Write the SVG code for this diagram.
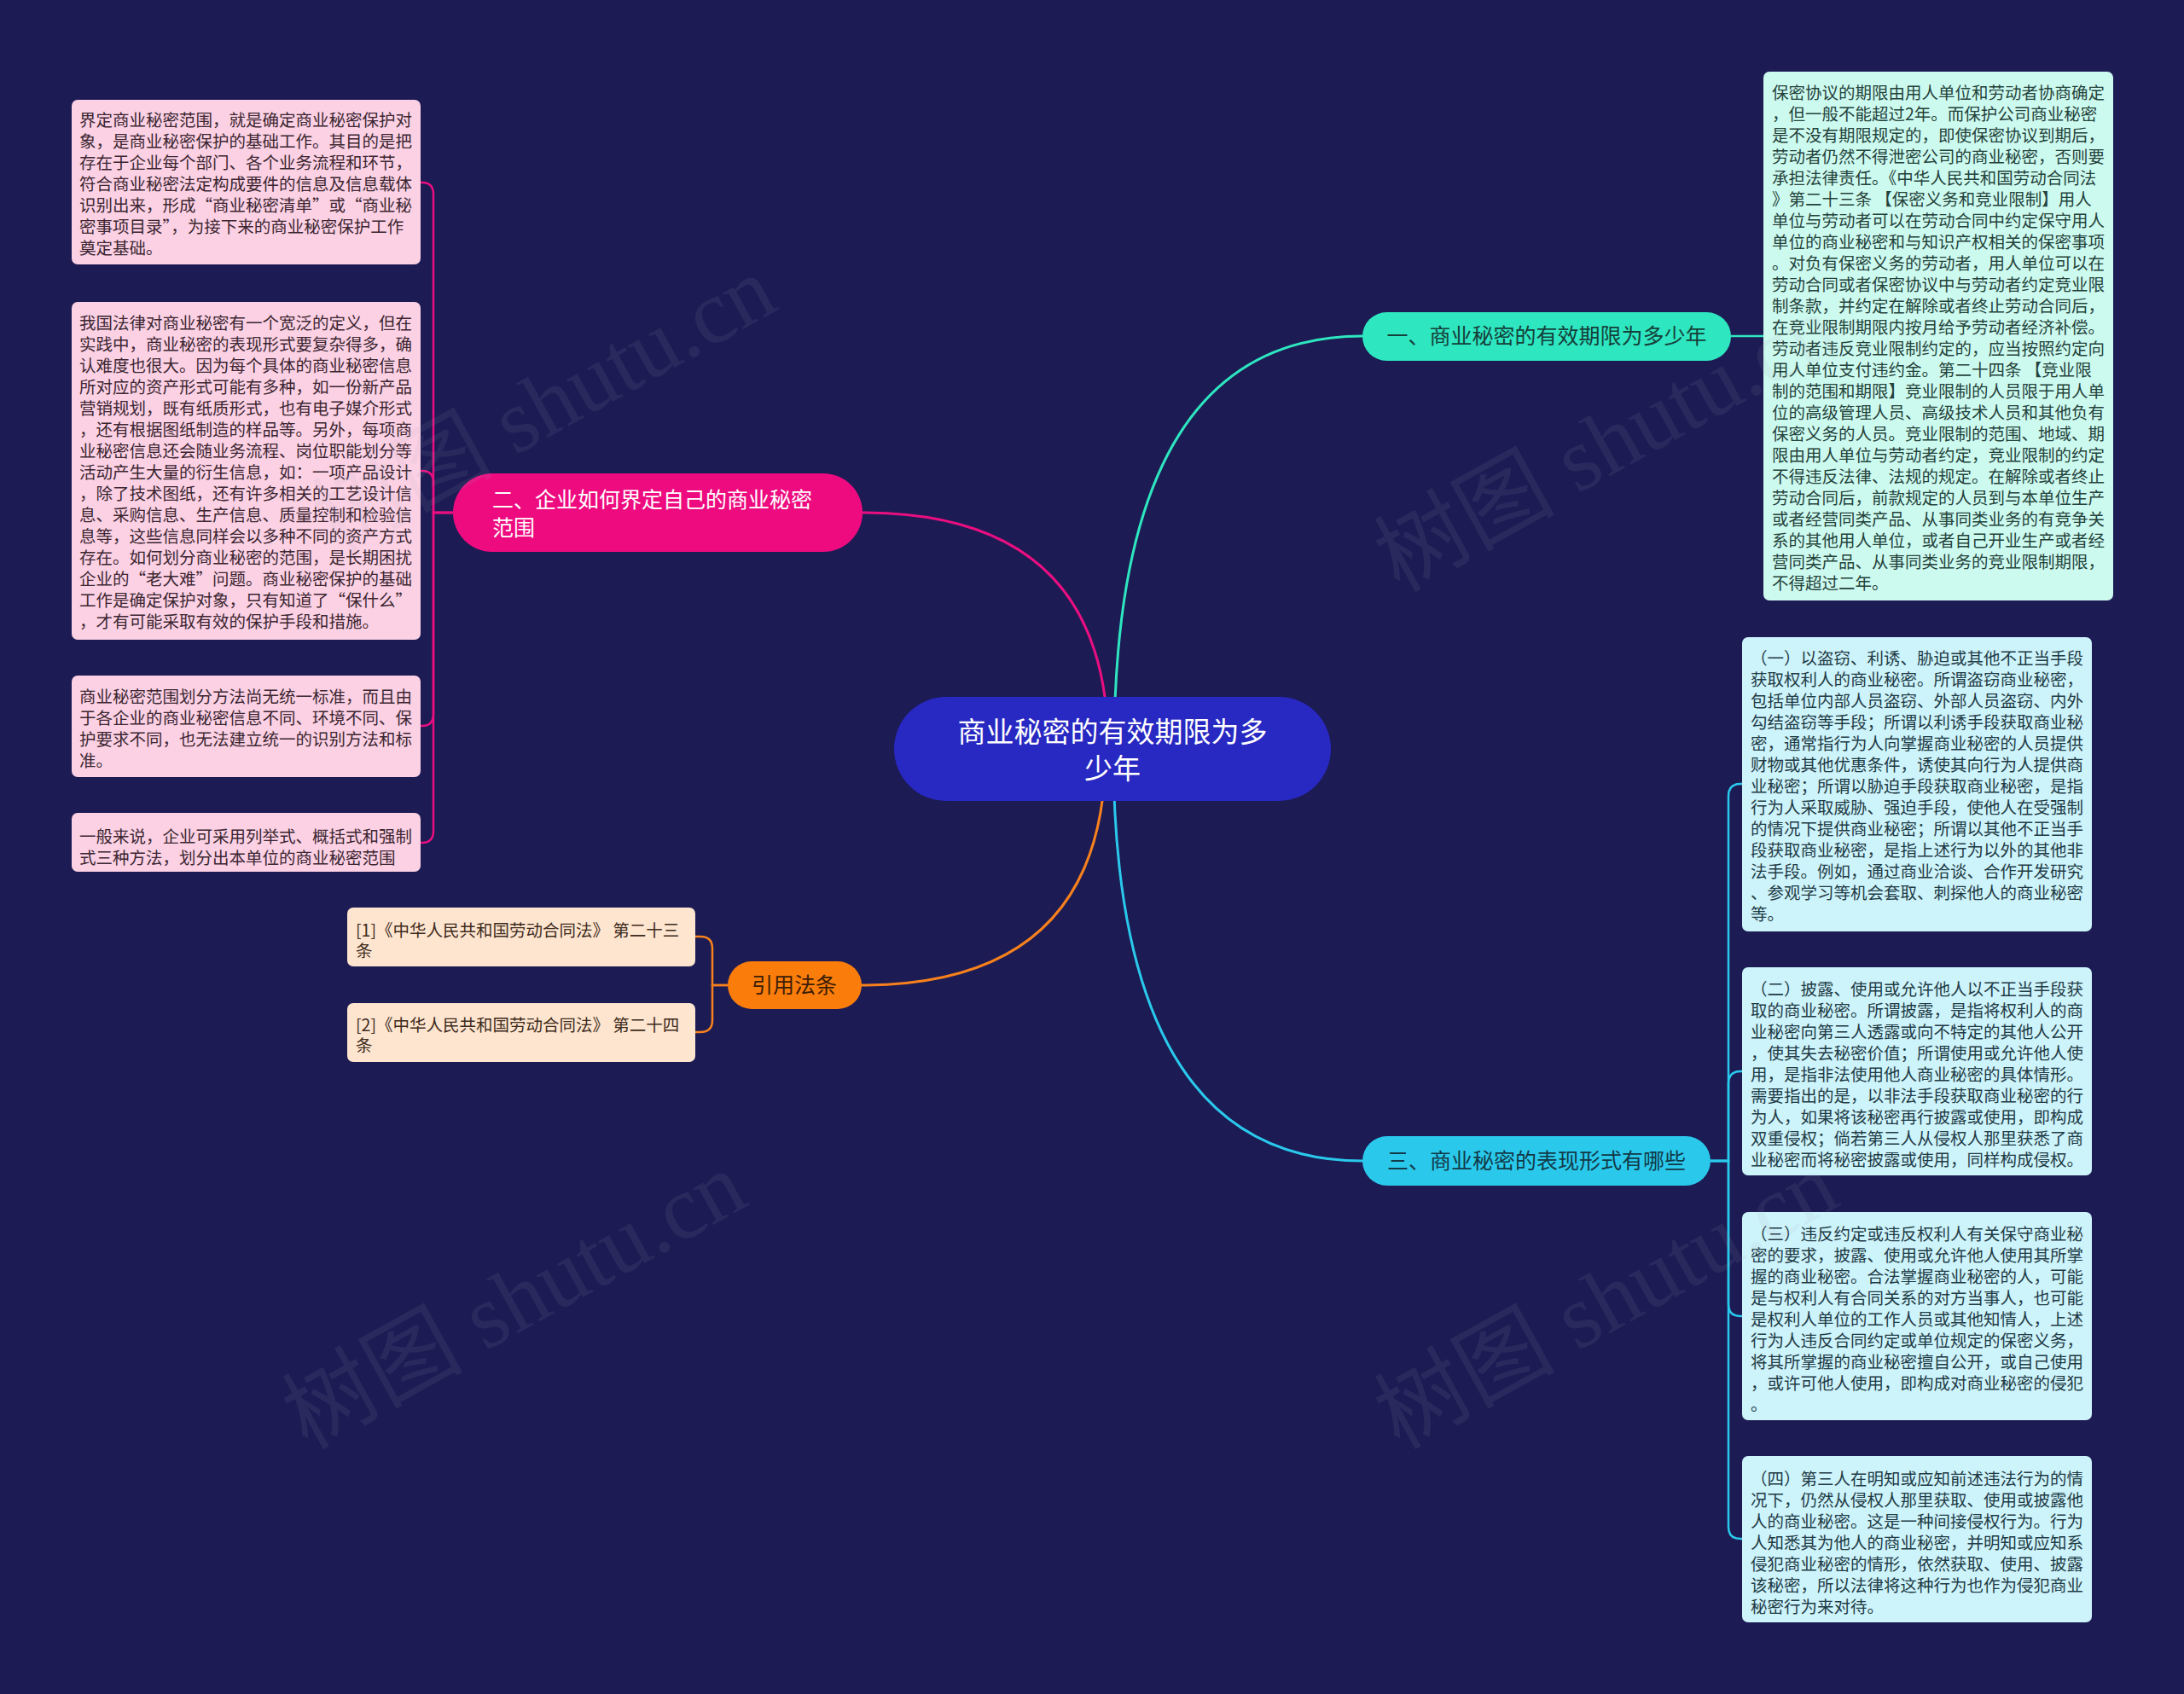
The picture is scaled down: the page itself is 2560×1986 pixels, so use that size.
<svg xmlns="http://www.w3.org/2000/svg" width="2560" height="1986" viewBox="0 0 2560 1986">
<style>
text{font-family:"Noto Sans CJK SC","Noto Sans",sans-serif}
.t{font-size:19.5px}
.pk{fill:#fcd1e4}.pkt{fill:#3b2631}
.mt{fill:#cdfaef}.mtt{fill:#24423b}
.cy{fill:#cdf3fb}.cyt{fill:#1f3b45}
.pc{fill:#fee5cf}.pct{fill:#3d2b1d}
.c{fill:none;stroke-linecap:round}
.wm{font-family:"Liberation Serif","Noto Sans CJK SC",serif;font-size:106px;fill:#a8a8b8;opacity:0.1}
</style>
<rect width="2560" height="1986" fill="#1c1b54"/>

<g id="connectors">
<path class="c" d="M1299 878 Q1299 601 1011 601" stroke="#ea0f80" stroke-width="3"/>
<path class="c" d="M1306 878 Q1306 394 1597 394" stroke="#2ee6c0" stroke-width="3"/>
<path class="c" d="M1296 878 Q1296 1155 1010 1155" stroke="#f7811c" stroke-width="3"/>
<path class="c" d="M1305 878 Q1305 1361 1597 1361" stroke="#2ac9ec" stroke-width="3"/>
<path class="c" d="M2029 394 H2067" stroke="#2ee6c0" stroke-width="2.5"/>
<g stroke="#ea0f80" stroke-width="2.5" fill="none">
<path d="M531 601 H508 V228 Q508 214 495 214 H493"/>
<path d="M531 601 H508 V566 Q508 552 495 552 H493"/>
<path d="M531 601 H508 V837 Q508 851 495 851 H493"/>
<path d="M531 601 H508 V974 Q508 988 495 988 H493"/>
</g>
<g stroke="#2ac9ec" stroke-width="2.5" fill="none">
<path d="M2005 1361 H2026 V933 Q2026 919 2040 919 H2042"/>
<path d="M2005 1361 H2026 V1270 Q2026 1256 2040 1256 H2042"/>
<path d="M2005 1361 H2026 V1529 Q2026 1543 2040 1543 H2042"/>
<path d="M2005 1361 H2026 V1790 Q2026 1804 2040 1804 H2042"/>
</g>
<g stroke="#f7811c" stroke-width="2.5" fill="none">
<path d="M853 1155 H835 V1112 Q835 1098 821 1098 H815"/>
<path d="M853 1155 H835 V1196 Q835 1210 821 1210 H815"/>
</g>
</g>

<g id="center">
<rect x="1048" y="817" width="512" height="122" rx="61" fill="#2828c2"/>
<text x="1304" y="870" font-size="33" fill="#ffffff" text-anchor="middle">商业秘密的有效期限为多</text>
<text x="1304" y="913" font-size="33" fill="#ffffff" text-anchor="middle">少年</text>
</g>

<g id="branch1">
<rect x="1597" y="366" width="432" height="57" rx="28.5" fill="#2ee6c0"/>
<text x="1813" y="403" font-size="25" fill="#15403a" text-anchor="middle">一、商业秘密的有效期限为多少年</text>
</g>
<g id="branch2">
<rect x="531" y="555" width="480" height="92" rx="46" fill="#ee0b80"/>
<text x="577" y="595" font-size="25" fill="#ffffff">二、企业如何界定自己的商业秘密</text>
<text x="577" y="628" font-size="25" fill="#ffffff">范围</text>
</g>
<g id="branch3">
<rect x="1597" y="1332" width="408" height="58" rx="29" fill="#2ac9ec"/>
<text x="1801" y="1370" font-size="25" fill="#123a48" text-anchor="middle">三、商业秘密的表现形式有哪些</text>
</g>
<g id="branch4">
<rect x="853" y="1127" width="157" height="56" rx="28" fill="#fa7d0c"/>
<text x="931" y="1164" font-size="25" fill="#3a1c04" text-anchor="middle">引用法条</text>
</g>

<g id="leaf-l1">
<rect class="pk" x="84" y="117" width="409" height="193" rx="7"/>
<text class="t pkt">
<tspan x="93" y="148">界定商业秘密范围，就是确定商业秘密保护对</tspan>
<tspan x="93" y="173">象，是商业秘密保护的基础工作。其目的是把</tspan>
<tspan x="93" y="198">存在于企业每个部门、各个业务流程和环节，</tspan>
<tspan x="93" y="223">符合商业秘密法定构成要件的信息及信息载体</tspan>
<tspan x="93" y="248">识别出来，形成“商业秘密清单”或“商业秘</tspan>
<tspan x="93" y="273">密事项目录”，为接下来的商业秘密保护工作</tspan>
<tspan x="93" y="298">奠定基础。</tspan>
</text>
</g>
<g id="leaf-l2">
<rect class="pk" x="84" y="354" width="409" height="396" rx="7"/>
<text class="t pkt">
<tspan x="93" y="386">我国法律对商业秘密有一个宽泛的定义，但在</tspan>
<tspan x="93" y="411">实践中，商业秘密的表现形式要复杂得多，确</tspan>
<tspan x="93" y="436">认难度也很大。因为每个具体的商业秘密信息</tspan>
<tspan x="93" y="461">所对应的资产形式可能有多种，如一份新产品</tspan>
<tspan x="93" y="486">营销规划，既有纸质形式，也有电子媒介形式</tspan>
<tspan x="93" y="511">，还有根据图纸制造的样品等。另外，每项商</tspan>
<tspan x="93" y="536">业秘密信息还会随业务流程、岗位职能划分等</tspan>
<tspan x="93" y="561">活动产生大量的衍生信息，如：一项产品设计</tspan>
<tspan x="93" y="586">，除了技术图纸，还有许多相关的工艺设计信</tspan>
<tspan x="93" y="611">息、采购信息、生产信息、质量控制和检验信</tspan>
<tspan x="93" y="636">息等，这些信息同样会以多种不同的资产方式</tspan>
<tspan x="93" y="661">存在。如何划分商业秘密的范围，是长期困扰</tspan>
<tspan x="93" y="686">企业的“老大难”问题。商业秘密保护的基础</tspan>
<tspan x="93" y="711">工作是确定保护对象，只有知道了“保什么”</tspan>
<tspan x="93" y="736">，才有可能采取有效的保护手段和措施。</tspan>
</text>
</g>
<g id="leaf-l3">
<rect class="pk" x="84" y="792" width="409" height="119" rx="7"/>
<text class="t pkt">
<tspan x="93" y="824">商业秘密范围划分方法尚无统一标准，而且由</tspan>
<tspan x="93" y="849">于各企业的商业秘密信息不同、环境不同、保</tspan>
<tspan x="93" y="874">护要求不同，也无法建立统一的识别方法和标</tspan>
<tspan x="93" y="899">准。</tspan>
</text>
</g>
<g id="leaf-l4">
<rect class="pk" x="84" y="953" width="409" height="69" rx="7"/>
<text class="t pkt">
<tspan x="93" y="988">一般来说，企业可采用列举式、概括式和强制</tspan>
<tspan x="93" y="1013">式三种方法，划分出本单位的商业秘密范围</tspan>
</text>
</g>

<g id="leaf-r0">
<rect class="mt" x="2067" y="84" width="410" height="620" rx="7"/>
<text class="t mtt">
<tspan x="2077" y="116">保密协议的期限由用人单位和劳动者协商确定</tspan>
<tspan x="2077" y="141">，但一般不能超过2年。而保护公司商业秘密</tspan>
<tspan x="2077" y="166">是不没有期限规定的，即使保密协议到期后，</tspan>
<tspan x="2077" y="191">劳动者仍然不得泄密公司的商业秘密，否则要</tspan>
<tspan x="2077" y="216">承担法律责任。《中华人民共和国劳动合同法</tspan>
<tspan x="2077" y="241">》第二十三条 【保密义务和竞业限制】用人</tspan>
<tspan x="2077" y="266">单位与劳动者可以在劳动合同中约定保守用人</tspan>
<tspan x="2077" y="291">单位的商业秘密和与知识产权相关的保密事项</tspan>
<tspan x="2077" y="316">。对负有保密义务的劳动者，用人单位可以在</tspan>
<tspan x="2077" y="341">劳动合同或者保密协议中与劳动者约定竞业限</tspan>
<tspan x="2077" y="366">制条款，并约定在解除或者终止劳动合同后，</tspan>
<tspan x="2077" y="391">在竞业限制期限内按月给予劳动者经济补偿。</tspan>
<tspan x="2077" y="416">劳动者违反竞业限制约定的，应当按照约定向</tspan>
<tspan x="2077" y="441">用人单位支付违约金。第二十四条 【竞业限</tspan>
<tspan x="2077" y="466">制的范围和期限】竞业限制的人员限于用人单</tspan>
<tspan x="2077" y="491">位的高级管理人员、高级技术人员和其他负有</tspan>
<tspan x="2077" y="516">保密义务的人员。竞业限制的范围、地域、期</tspan>
<tspan x="2077" y="541">限由用人单位与劳动者约定，竞业限制的约定</tspan>
<tspan x="2077" y="566">不得违反法律、法规的规定。在解除或者终止</tspan>
<tspan x="2077" y="591">劳动合同后，前款规定的人员到与本单位生产</tspan>
<tspan x="2077" y="616">或者经营同类产品、从事同类业务的有竞争关</tspan>
<tspan x="2077" y="641">系的其他用人单位，或者自己开业生产或者经</tspan>
<tspan x="2077" y="666">营同类产品、从事同类业务的竞业限制期限，</tspan>
<tspan x="2077" y="691">不得超过二年。</tspan>
</text>
</g>

<g id="leaf-r1">
<rect class="cy" x="2042" y="747" width="410" height="345" rx="7"/>
<text class="t cyt">
<tspan x="2052" y="779">（一）以盗窃、利诱、胁迫或其他不正当手段</tspan>
<tspan x="2052" y="804">获取权利人的商业秘密。所谓盗窃商业秘密，</tspan>
<tspan x="2052" y="829">包括单位内部人员盗窃、外部人员盗窃、内外</tspan>
<tspan x="2052" y="854">勾结盗窃等手段；所谓以利诱手段获取商业秘</tspan>
<tspan x="2052" y="879">密，通常指行为人向掌握商业秘密的人员提供</tspan>
<tspan x="2052" y="904">财物或其他优惠条件，诱使其向行为人提供商</tspan>
<tspan x="2052" y="929">业秘密；所谓以胁迫手段获取商业秘密，是指</tspan>
<tspan x="2052" y="954">行为人采取威胁、强迫手段，使他人在受强制</tspan>
<tspan x="2052" y="979">的情况下提供商业秘密；所谓以其他不正当手</tspan>
<tspan x="2052" y="1004">段获取商业秘密，是指上述行为以外的其他非</tspan>
<tspan x="2052" y="1029">法手段。例如，通过商业洽谈、合作开发研究</tspan>
<tspan x="2052" y="1054">、参观学习等机会套取、刺探他人的商业秘密</tspan>
<tspan x="2052" y="1079">等。</tspan>
</text>
</g>
<g id="leaf-r2">
<rect class="cy" x="2042" y="1134" width="410" height="244" rx="7"/>
<text class="t cyt">
<tspan x="2052" y="1167">（二）披露、使用或允许他人以不正当手段获</tspan>
<tspan x="2052" y="1192">取的商业秘密。所谓披露，是指将权利人的商</tspan>
<tspan x="2052" y="1217">业秘密向第三人透露或向不特定的其他人公开</tspan>
<tspan x="2052" y="1242">，使其失去秘密价值；所谓使用或允许他人使</tspan>
<tspan x="2052" y="1267">用，是指非法使用他人商业秘密的具体情形。</tspan>
<tspan x="2052" y="1292">需要指出的是，以非法手段获取商业秘密的行</tspan>
<tspan x="2052" y="1317">为人，如果将该秘密再行披露或使用，即构成</tspan>
<tspan x="2052" y="1342">双重侵权；倘若第三人从侵权人那里获悉了商</tspan>
<tspan x="2052" y="1367">业秘密而将秘密披露或使用，同样构成侵权。</tspan>
</text>
</g>
<g id="leaf-r3">
<rect class="cy" x="2042" y="1421" width="410" height="244" rx="7"/>
<text class="t cyt">
<tspan x="2052" y="1454">（三）违反约定或违反权利人有关保守商业秘</tspan>
<tspan x="2052" y="1479">密的要求，披露、使用或允许他人使用其所掌</tspan>
<tspan x="2052" y="1504">握的商业秘密。合法掌握商业秘密的人，可能</tspan>
<tspan x="2052" y="1529">是与权利人有合同关系的对方当事人，也可能</tspan>
<tspan x="2052" y="1554">是权利人单位的工作人员或其他知情人，上述</tspan>
<tspan x="2052" y="1579">行为人违反合同约定或单位规定的保密义务，</tspan>
<tspan x="2052" y="1604">将其所掌握的商业秘密擅自公开，或自己使用</tspan>
<tspan x="2052" y="1629">，或许可他人使用，即构成对商业秘密的侵犯</tspan>
<tspan x="2052" y="1654">。</tspan>
</text>
</g>
<g id="leaf-r4">
<rect class="cy" x="2042" y="1707" width="410" height="195" rx="7"/>
<text class="t cyt">
<tspan x="2052" y="1741">（四）第三人在明知或应知前述违法行为的情</tspan>
<tspan x="2052" y="1766">况下，仍然从侵权人那里获取、使用或披露他</tspan>
<tspan x="2052" y="1791">人的商业秘密。这是一种间接侵权行为。行为</tspan>
<tspan x="2052" y="1816">人知悉其为他人的商业秘密，并明知或应知系</tspan>
<tspan x="2052" y="1841">侵犯商业秘密的情形，依然获取、使用、披露</tspan>
<tspan x="2052" y="1866">该秘密，所以法律将这种行为也作为侵犯商业</tspan>
<tspan x="2052" y="1891">秘密行为来对待。</tspan>
</text>
</g>

<g id="leaf-o1">
<rect class="pc" x="407" y="1064" width="408" height="69" rx="7"/>
<text class="t pct">
<tspan x="417" y="1098">[1]《中华人民共和国劳动合同法》 第二十三</tspan>
<tspan x="417" y="1122">条</tspan>
</text>
</g>
<g id="leaf-o2">
<rect class="pc" x="407" y="1176" width="408" height="69" rx="7"/>
<text class="t pct">
<tspan x="417" y="1209">[2]《中华人民共和国劳动合同法》 第二十四</tspan>
<tspan x="417" y="1233">条</tspan>
</text>
</g>

<g id="watermarks">
<text class="wm" transform="translate(395 650) rotate(-29)">树图 shutu.cn</text>
<text class="wm" transform="translate(1640 695) rotate(-29)">树图 shutu.cn</text>
<text class="wm" transform="translate(360 1700) rotate(-29)">树图 shutu.cn</text>
<text class="wm" transform="translate(1640 1700) rotate(-29)">树图 shutu.cn</text>
</g>
</svg>
